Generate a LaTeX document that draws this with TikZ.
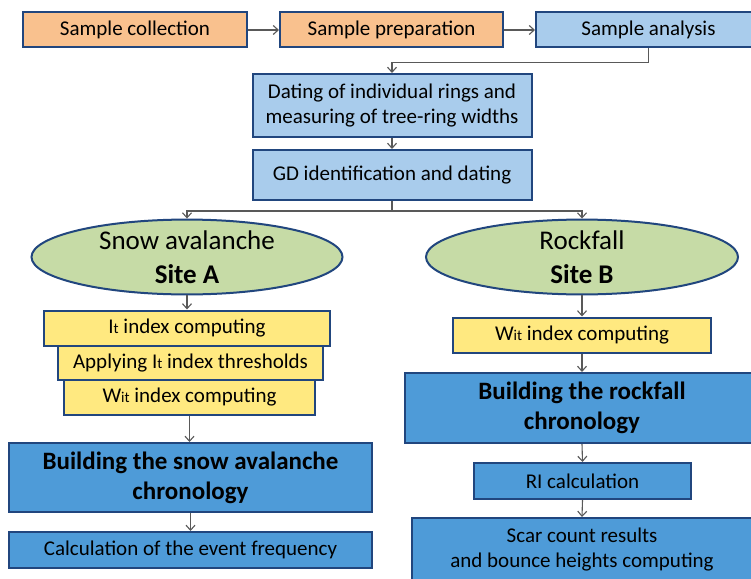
\documentclass[tikz,border=0pt]{standalone}
\usepackage{fontspec}
\setmainfont{Carlito}
\usetikzlibrary{arrows.meta,shapes.geometric}
\definecolor{orangefill}{HTML}{F9C18E}
\definecolor{lightblue}{HTML}{A9CCEC}
\definecolor{yellowfill}{HTML}{FFE980}
\definecolor{midblue}{HTML}{4E9BD8}
\definecolor{greenfill}{HTML}{C6DBA6}
\definecolor{navy}{HTML}{21467E}
\definecolor{linegray}{HTML}{595959}
\newcommand{\smallsub}[1]{{\fontsize{15}{15}\selectfont #1}}
\begin{document}
\begin{tikzpicture}[x=1pt,y=-1pt,
  box/.style={draw=navy,line width=2pt,inner sep=0pt,align=center,
    font=\fontsize{21}{25}\selectfont},
  boldbox/.style={box,font=\fontsize{25}{30}\selectfont\bfseries},
  oval/.style={ellipse,draw=navy,line width=2pt,fill=greenfill,inner sep=0pt,
    align=center,font=\fontsize{27}{34}\selectfont},
  arr/.style={draw=linegray,line width=1.1pt,-{Straight Barb[length=5pt,width=9pt]}}]
\useasboundingbox[fill=white] (0,0) rectangle (751,578);
% top row
\node[box,fill=orangefill,minimum width=224pt,minimum height=35pt] (sc) at (135,30) {Sample collection};
\node[box,fill=orangefill,minimum width=223pt,minimum height=35pt] (sp) at (391.5,30) {Sample preparation};
\node[box,fill=lightblue,minimum width=225pt,minimum height=35pt] (sa) at (648.5,30) {Sample analysis};
\node[box,fill=lightblue,minimum width=279pt,minimum height=63pt] (dat) at (392,105.5) {Dating of individual rings and\\measuring of tree-ring widths};
\node[box,fill=lightblue,minimum width=279pt,minimum height=50pt] (gd) at (392,175) {GD identification and dating};
% ellipses
\node[oval,minimum width=311pt,minimum height=74pt] (ea) at (187,257) {Snow avalanche\\\textbf{Site A}};
\node[oval,minimum width=312pt,minimum height=74pt] (eb) at (582,257) {Rockfall\\\textbf{Site B}};
% left branch
\node[box,fill=yellowfill,minimum width=286pt,minimum height=35pt] (it) at (187,328) {I\smallsub{t} index computing};
\node[box,fill=yellowfill,minimum width=265pt,minimum height=34pt] (ap) at (190.5,363) {Applying I\smallsub{t} index thresholds};
\node[box,fill=yellowfill,minimum width=251pt,minimum height=35pt] (wa) at (189.5,397.5) {W\smallsub{it} index computing};
\node[boldbox,fill=midblue,minimum width=363pt,minimum height=69pt] (bs) at (190.5,477.5) {Building the snow avalanche\\chronology};
\node[box,fill=midblue,minimum width=363pt,minimum height=36pt] (cf) at (190.5,550) {Calculation of the event frequency};
% right branch
\node[box,fill=yellowfill,minimum width=258pt,minimum height=35pt] (wb) at (582,335) {W\smallsub{it} index computing};
\node[boldbox,fill=midblue,minimum width=354pt,minimum height=70pt] (br) at (582,408) {Building the rockfall\\chronology};
\node[box,fill=midblue,minimum width=217pt,minimum height=36pt] (ri) at (582.5,481) {RI calculation};
\node[box,fill=midblue,minimum width=340pt,minimum height=64pt] (sr) at (582,550) {Scar count results\\and bounce heights computing};
% connectors
\draw[arr] (sc.east) -- (sp.west);
\draw[arr] (sp.east) -- (sa.west);
\draw[arr] (sa.south) -- ++(0,14) -| (dat.north);
\draw[arr] (dat.south) -- (gd.north);
\draw[arr] (gd.south) -- ++(0,10) -| (ea.north);
\draw[arr] (gd.south) -- ++(0,10) -| (eb.north);
\draw[arr] (ea.south) -- (it.north);
\draw[arr] (wa.south) -- (wa.south |- bs.north);
\draw[arr] (bs.south) -- (cf.north);
\draw[arr] (eb.south) -- (wb.north);
\draw[arr] (wb.south) -- (br.north);
\draw[arr] (br.south) -- (ri.north);
\draw[arr] (ri.south) -- (sr.north);
\end{tikzpicture}
\end{document}
